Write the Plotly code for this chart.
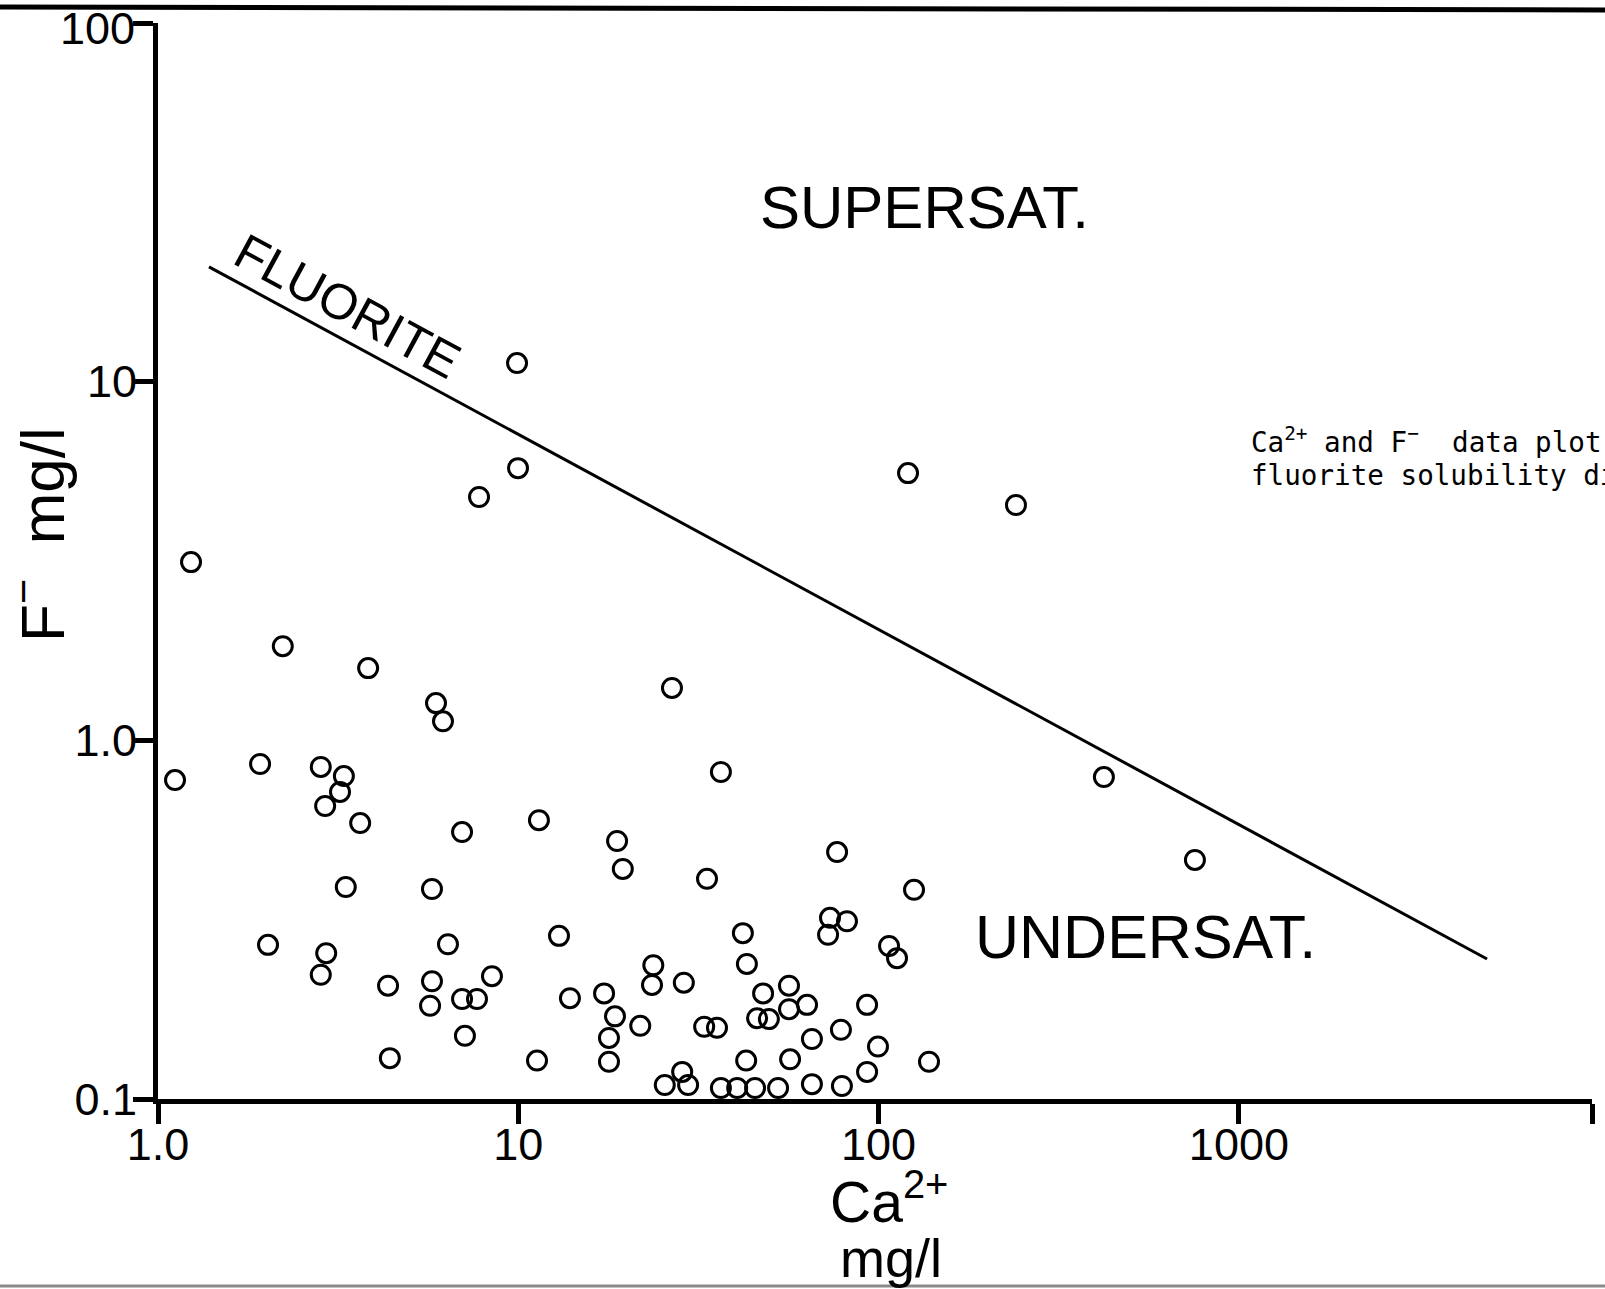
import plotly.graph_objects as go

# ---- data ----
ca_mg_l = [9.92, 9.98, 7.78, 1.235, 120.7, 240.6, 2.22, 3.83, 5.91, 6.18,
           26.7, 36.5, 1.115, 1.92, 2.83, 3.28, 3.20, 2.91, 3.64, 6.98,
           11.41, 18.8, 19.5, 33.4, 76.7, 422, 755, 3.32, 5.76, 2.02,
           6.38, 2.93, 2.83, 4.35, 5.76, 5.69, 6.98, 7.68, 8.45, 7.11,
           4.40, 11.27, 12.97, 13.91, 17.3, 18.55, 17.85, 17.85, 21.8, 23.7,
           23.5, 28.8, 32.8, 35.6, 42.0, 43.1, 47.8, 46.0, 49.6, 56.4,
           56.4, 63.3, 56.8, 42.9, 73.3, 81.7, 72.4, 65.3, 78.6, 92.9,
           106.9, 112.5, 125.4, 99.6, 92.9, 138.0, 25.5, 28.5, 29.6, 36.5,
           40.5, 45.4, 52.6, 65.3, 79.1]
f_mg_l = [11.27, 5.74, 4.77, 3.14, 5.56, 4.53, 1.83, 1.59, 1.27, 1.13,
          1.40, 0.816, 0.775, 0.859, 0.843, 0.795, 0.718, 0.656, 0.588, 0.555,
          0.599, 0.524, 0.438, 0.411, 0.488, 0.790, 0.464, 0.390, 0.385, 0.269,
          0.270, 0.255, 0.222, 0.207, 0.213, 0.182, 0.190, 0.190, 0.220, 0.150,
          0.130, 0.128, 0.285, 0.191, 0.197, 0.170, 0.148, 0.127, 0.160, 0.236,
          0.208, 0.211, 0.159, 0.158, 0.290, 0.238, 0.197, 0.168, 0.167, 0.207,
          0.178, 0.183, 0.129, 0.128, 0.320, 0.313, 0.287, 0.147, 0.156, 0.183,
          0.267, 0.247, 0.383, 0.140, 0.119, 0.127, 0.1094, 0.119, 0.1094, 0.1073,
          0.1073, 0.1073, 0.1073, 0.110, 0.1087]

fluorite_ca = [1.385, 4883]
fluorite_f = [20.9, 0.2457]

x_tick_vals = [1, 10, 100, 1000, 9550]
x_tick_text = ["1.0", "10", "100", "1000", ""]
y_tick_vals = [0.1, 1, 10, 100]
y_tick_text = ["0.1", "1.0", "10", ""]
y_top_label = "100"

FONT = "Liberation Sans"

fig = go.Figure()
fig.add_trace(go.Scatter(
    x=fluorite_ca, y=fluorite_f, mode="lines",
    line=dict(color="black", width=3), hoverinfo="skip", showlegend=False))
fig.add_trace(go.Scatter(
    x=ca_mg_l, y=f_mg_l, mode="markers", cliponaxis=False,
    marker=dict(symbol="circle-open", size=19, color="black",
                line=dict(width=3, color="black")),
    showlegend=False))

axis_common = dict(
    type="log", showgrid=False, zeroline=False, showline=True,
    linewidth=5, linecolor="black", ticks="outside", ticklen=20,
    tickwidth=5, tickcolor="black", automargin=False,
    ticklabeloverflow="allow",
    tickfont=dict(family=FONT, size=45, color="black"),
)

fig.update_layout(
    width=1605, height=1289,
    margin=dict(l=158, r=13, t=23, b=190, autoexpand=False),
    paper_bgcolor="white", plot_bgcolor="white", showlegend=False,
    xaxis=dict(range=[0, 3.98], tickmode="array", tickvals=x_tick_vals,
               ticktext=x_tick_text, ticklabelstandoff=-18, **axis_common),
    yaxis=dict(range=[-1, 2], tickmode="array", tickvals=y_tick_vals,
               ticktext=y_tick_text, ticklabelstandoff=-13, **axis_common),
)

ann = []
# top y tick label, nudged down slightly as in the original so it stays on the page
ann.append(dict(text=y_top_label, xref="paper", yref="paper", x=(137 - 158) / 1434, y=1.0,
                xanchor="right", yanchor="middle", yshift=-5, showarrow=False,
                font=dict(family=FONT, size=45, color="black")))
ann.append(dict(text="SUPERSAT.", xref="paper", yref="paper", x=0.5342, y=0.8281,
                xanchor="center", yanchor="middle", showarrow=False,
                font=dict(family=FONT, size=60, color="black")))
ann.append(dict(text="UNDERSAT.", xref="paper", yref="paper", x=0.6883, y=0.1506,
                xanchor="center", yanchor="middle", showarrow=False,
                font=dict(family=FONT, size=61, color="black")))
ann.append(dict(text="FLUORITE", xref="paper", yref="paper", x=0.1318, y=0.7370,
                xanchor="center", yanchor="middle", showarrow=False, textangle=28.4,
                font=dict(family=FONT, size=50, color="black")))
ann.append(dict(text="F<sup>\u2212</sup>\u00a0 mg/l", xref="paper", yref="paper",
                x=-0.0837, y=0.5251, xanchor="center", yanchor="middle",
                showarrow=False, textangle=-90,
                font=dict(family=FONT, size=62, color="black")))
ann.append(dict(text="Ca<sup>2+</sup>", xref="paper", yref="paper",
                x=(889 - 158) / 1434, y=(1099 - 1198) / 1076,
                xanchor="center", yanchor="middle", showarrow=False,
                font=dict(family=FONT, size=57, color="black")))
ann.append(dict(text="mg/l", xref="paper", yref="paper",
                x=(891 - 158) / 1434, y=(1099 - 1258) / 1076,
                xanchor="center", yanchor="middle", showarrow=False,
                font=dict(family=FONT, size=54, color="black")))
MONO = "DejaVu Sans Mono"
ann.append(dict(text="Ca<sup>2+</sup> and F<sup>\u2212</sup>\u00a0 data plot",
                xref="paper", yref="paper",
                x=(1249 - 158) / 1434, y=(1099 - 440) / 1076,
                xanchor="left", yanchor="middle", showarrow=False,
                font=dict(family=MONO, size=27.6, color="black")))
ann.append(dict(text="fluorite solubility dia",
                xref="paper", yref="paper",
                x=(1249 - 158) / 1434, y=(1099 - 475) / 1076,
                xanchor="left", yanchor="middle", showarrow=False,
                font=dict(family=MONO, size=27.6, color="black")))
fig.update_layout(annotations=ann)

fig.update_layout(shapes=[
    dict(type="line", xref="paper", yref="paper", x0=-0.12, x1=1.02,
         y0=(1099 - 7) / 1076, y1=(1099 - 10) / 1076,
         line=dict(color="black", width=5)),
    dict(type="line", xref="paper", yref="paper", x0=-0.12, x1=1.02,
         y0=(1099 - 1286) / 1076, y1=(1099 - 1286) / 1076,
         line=dict(color="#8a8a8a", width=3)),
])

fig.write_html("out.html")
